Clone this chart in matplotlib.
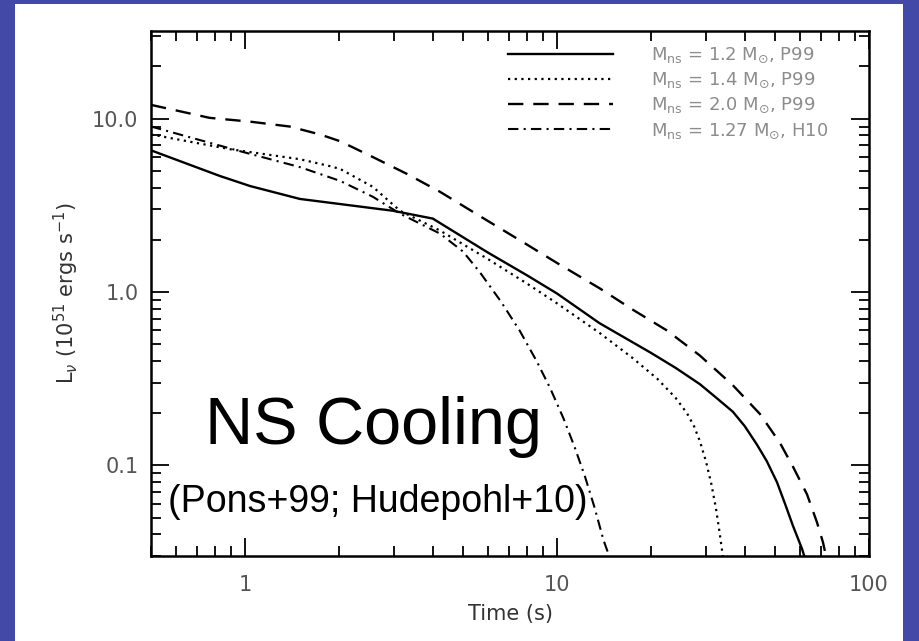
import numpy as np
import matplotlib
matplotlib.use("Agg")
import matplotlib.pyplot as plt
from matplotlib.patches import Rectangle
from matplotlib.ticker import LogLocator, NullFormatter, FixedLocator, FixedFormatter

# NS cooling curves, time (s) vs L_nu (1e51 erg/s)
solid_t = [0.5, 0.83, 1.04, 1.5, 2.98, 4.0, 6.0, 8.0, 10.0, 13.7, 19.9, 24.0, 28.7, 32.0, 36.6,
           40.0, 43.7, 47.0, 50.7, 54.0, 57.0, 59.5, 61.0, 62.0]
solid_L = [6.56, 4.67, 4.08, 3.44, 2.94, 2.65, 1.69, 1.25, 0.98, 0.66, 0.448, 0.365, 0.294, 0.25, 0.204,
           0.168, 0.132, 0.106, 0.080, 0.059, 0.045, 0.037, 0.033, 0.030]

dotted_t = [0.5, 0.9, 1.5, 1.87, 2.02, 2.57, 3.14, 4.22, 6.0, 8.0, 10.0, 13.7, 17.5, 21.0, 24.0,
            26.1, 27.5, 28.7, 30.0, 31.2, 32.3, 33.2, 34.0]
dotted_L = [8.1, 6.65, 5.83, 5.32, 5.12, 4.04, 2.94, 2.26, 1.55, 1.12, 0.86, 0.58, 0.415, 0.315, 0.245,
            0.200, 0.168, 0.138, 0.106, 0.079, 0.057, 0.041, 0.030]

dashed_t = [0.5, 0.77, 1.04, 1.39, 1.74, 2.02, 2.57, 3.31, 4.22, 6.0, 8.0, 10.0, 13.7, 17.5, 22.5,
            28.7, 36.6, 44.7, 51.8, 57.1, 63.3, 68.1, 71.2, 72.8]
dashed_L = [12.0, 10.1, 9.6, 9.0, 8.1, 7.4, 6.0, 4.79, 3.78, 2.57, 1.88, 1.47, 1.05, 0.79, 0.60,
            0.43, 0.29, 0.198, 0.135, 0.098, 0.068, 0.047, 0.036, 0.030]

dashdot_t = [0.5, 0.96, 1.5, 2.02, 2.57, 3.14, 4.22, 5.0, 5.66, 6.6, 7.6, 8.6, 9.5, 10.5, 11.4,
             12.3, 13.2, 14.1, 14.7]
dashdot_L = [9.0, 6.5, 5.25, 4.37, 3.54, 2.83, 2.17, 1.71, 1.30, 0.885, 0.597, 0.40, 0.28, 0.186, 0.127,
             0.086, 0.057, 0.037, 0.030]

labels = [r"M$_{\rm ns}$ = 1.2 M$_{\odot}$, P99",
          r"M$_{\rm ns}$ = 1.4 M$_{\odot}$, P99",
          r"M$_{\rm ns}$ = 2.0 M$_{\odot}$, P99",
          r"M$_{\rm ns}$ = 1.27 M$_{\odot}$, H10"]

xticks = [1, 10, 100]
xticklabels = ["1", "10", "100"]
yticks = [0.1, 1.0, 10.0]
yticklabels = ["0.1", "1.0", "10.0"]

plt.rcParams["mathtext.fontset"] = "dejavusans"

W, H = 919, 641
fig = plt.figure(figsize=(W / 100, H / 100), dpi=100, facecolor="#4349a6")
# white slide area behind the plot
fig.patches.append(Rectangle((15 / W, 0), (903 - 15) / W, (H - 4) / H,
                             transform=fig.transFigure, facecolor="white",
                             edgecolor="none", zorder=-5))

ax = fig.add_axes([151 / W, (H - 556) / H, (869 - 151) / W, (556 - 31) / H])
ax.set_facecolor("white")
ax.set_zorder(2)

ax.plot(solid_t, solid_L, color="black", lw=1.7, ls="-", label=labels[0])
ax.plot(dotted_t, dotted_L, color="black", lw=1.6, ls=(0, (1, 2.0)), label=labels[1])
ax.plot(dashed_t, dashed_L, color="black", lw=1.7, ls=(0, (6.5, 4.2)), label=labels[2])
ax.plot(dashdot_t, dashdot_L, color="black", lw=1.5, ls=(0, (5, 2.5, 1, 2.5)), label=labels[3])

ax.set_xscale("log")
ax.set_yscale("log")
ax.set_xlim(0.5, 100)
ax.set_ylim(0.03, 32)

ax.xaxis.set_major_locator(FixedLocator(xticks))
ax.xaxis.set_major_formatter(FixedFormatter(xticklabels))
ax.yaxis.set_major_locator(FixedLocator(yticks))
ax.yaxis.set_major_formatter(FixedFormatter(yticklabels))
ax.xaxis.set_minor_locator(LogLocator(base=10, subs=np.arange(2, 10)))
ax.yaxis.set_minor_locator(LogLocator(base=10, subs=np.arange(2, 10)))
ax.xaxis.set_minor_formatter(NullFormatter())
ax.yaxis.set_minor_formatter(NullFormatter())

ax.tick_params(which="both", direction="in", top=True, right=True, colors="black",
               labelcolor="#555555", labelsize=15, width=1.3)
ax.tick_params(which="major", length=13, pad=9)
ax.tick_params(axis="x", which="major", pad=14)
ax.tick_params(which="minor", length=7)
for s in ax.spines.values():
    s.set_linewidth(1.8)

ax.set_xlabel("Time (s)", fontsize=15, color="#333333", labelpad=6)
ax.set_ylabel(r"L$_\nu$ (10$^{51}$ ergs s$^{-1}$)", fontsize=15, color="#333333", labelpad=8)

leg = ax.legend(loc="upper right", frameon=False, fontsize=13, handlelength=5.8,
                handletextpad=2.1, labelspacing=0.32, borderpad=0, borderaxespad=0,
                bbox_to_anchor=(677 / 718, 1 - 15 / 525))
for txt in leg.get_texts():
    txt.set_color("#8c8c8c")

fig.text(205 / W, 1 - 427 / H, "NS Cooling", fontsize=48, family="Liberation Sans",
         va="center", ha="left", color="black", zorder=5)
fig.text(168 / W, 1 - 512 / H, "(Pons+99; Hudepohl+10)", fontsize=27,
         family="Liberation Sans", va="baseline", ha="left", color="black", zorder=5)

fig.savefig("out.png", dpi=100, facecolor=fig.get_facecolor())
